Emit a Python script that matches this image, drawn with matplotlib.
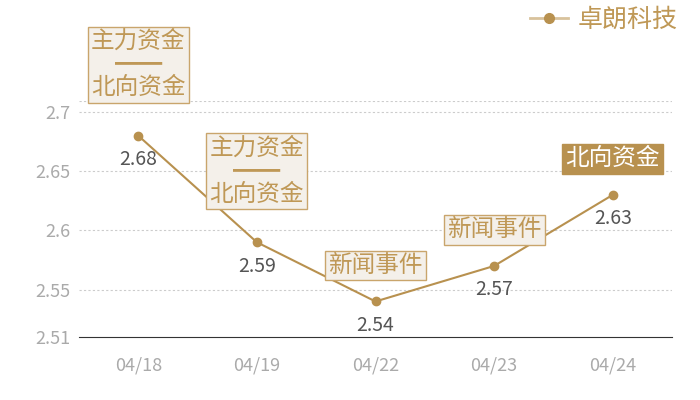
import matplotlib
matplotlib.use("Agg")
import matplotlib.pyplot as plt
from matplotlib.lines import Line2D

plt.rcParams['font.family'] = ['Noto Sans CJK SC', 'DejaVu Sans']

# data
dates = ["04/18", "04/19", "04/22", "04/23", "04/24"]
prices = [2.68, 2.59, 2.54, 2.57, 2.63]
events = ["主力资金\n━━\n北向资金", "主力资金\n━━\n北向资金", "新闻事件", "新闻事件", "北向资金"]
highlight = [False, False, False, False, True]
yticks = [2.51, 2.55, 2.6, 2.65, 2.7]
series_name = "卓朗科技"

GOLD = "#b8914f"
BOX_FILL = "#f4f0ea"
BOX_EDGE = "#c9a56c"
TXT_GOLD = "#bf9856"

fig = plt.figure(figsize=(7, 4), dpi=100)
ax = fig.add_axes([79 / 700, 1 - 337 / 400, (672 - 79) / 700, (337 - 101) / 400])

x = list(range(len(dates)))
ax.plot(x, prices, color=GOLD, lw=1.5, marker="o", ms=6, zorder=3)

ax.set_xlim(-0.5, len(dates) - 0.5)
ax.set_ylim(2.51, 2.7093)
ax.set_xticks(x)
ax.set_xticklabels(dates)
ax.set_yticks(yticks)
ax.set_yticklabels(["2.51", "2.55", "2.6", "2.65", "2.7"])

for s in ["top", "right", "left"]:
    ax.spines[s].set_visible(False)
ax.spines["bottom"].set_color("#333333")
ax.tick_params(axis="both", length=0, colors="#aaaaaa", labelsize=13)
ax.tick_params(axis="x", pad=14)
ax.tick_params(axis="y", pad=6.5)

for yv in yticks[1:] + [2.7093]:
    ax.axhline(yv, color="#cccccc", lw=0.8, ls=(0, (2, 2)), zorder=1)

# value labels
for xi, p in zip(x, prices):
    ax.annotate(f"{p:g}", (xi, p), xytext=(0, -24), textcoords="offset pixels",
                ha="center", va="center", fontsize=14, color="#555555", zorder=4)

# event boxes
for xi, p, ev, hl in zip(x, prices, events, highlight):
    two = "\n" in ev
    off = 71 if two else 36
    if hl:
        bbox = dict(boxstyle="square,pad=0.14", fc=GOLD, ec=GOLD, lw=1)
        col = "white"
    else:
        bbox = dict(boxstyle="square,pad=0.14", fc=BOX_FILL, ec=BOX_EDGE, lw=1)
        col = TXT_GOLD
    ax.annotate(ev, (xi, p), xytext=(0, off), textcoords="offset pixels",
                ha="center", va="center", fontsize=17, color=col,
                linespacing=1.0, bbox=bbox, zorder=5, annotation_clip=False)

# legend
handle = Line2D([0], [0], color="#d8c29c", lw=2, marker="o", ms=7,
                markerfacecolor=GOLD, markeredgecolor=GOLD)
fig.legend([handle], [series_name], loc="upper right", bbox_to_anchor=(1.0, 1.04),
           frameon=False, fontsize=18, labelcolor=TXT_GOLD, handlelength=1.5,
           handletextpad=0.4)

fig.savefig("out.png", dpi=100)
